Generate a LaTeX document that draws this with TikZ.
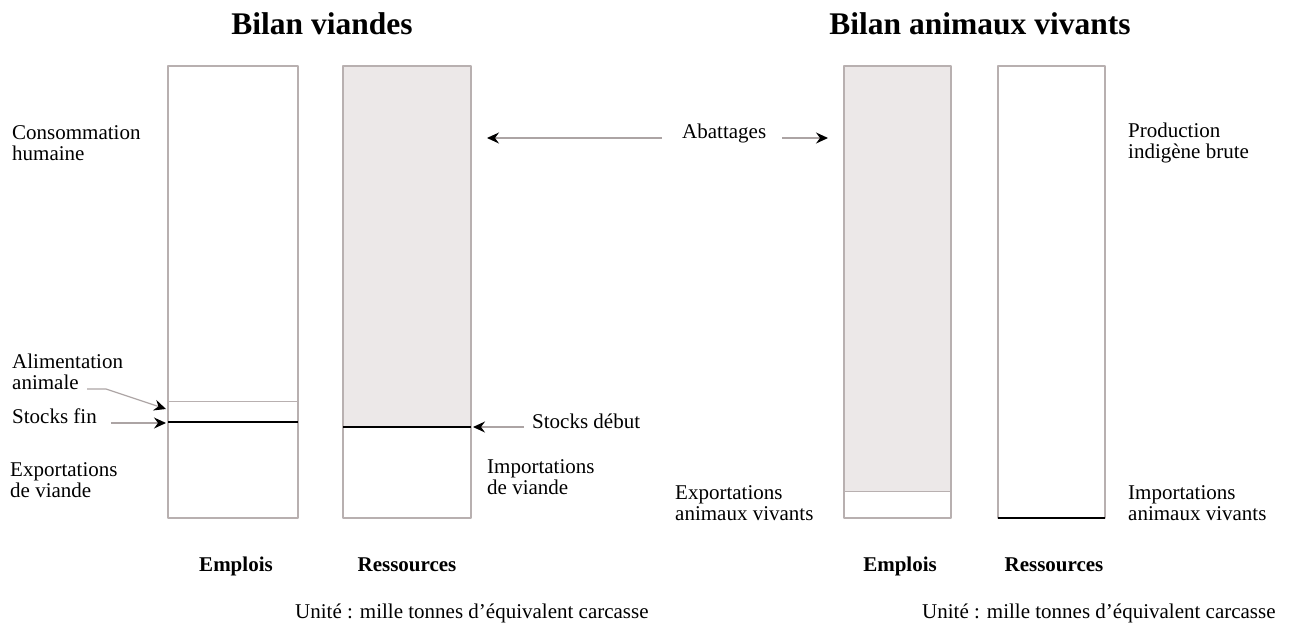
\documentclass[tikz,border=0pt]{standalone}
\usepackage{fontspec}
\setmainfont{Liberation Serif}
\usetikzlibrary{arrows.meta}
\definecolor{bordgris}{HTML}{B8B0B0}
\definecolor{fondgris}{HTML}{ECE8E8}
\definecolor{flechegris}{HTML}{ACA4A4}
\begin{document}
\begin{tikzpicture}[x=1pt,y=-1pt,line join=round,>={Stealth[black,length=12pt,width=11pt,inset=4pt]}]
            \tikzset{etiquette/.style={font=\fontsize{21}{21}\selectfont,align=left,inner sep=0pt},
                titre/.style={font=\fontsize{31.5}{32}\selectfont\bfseries,inner sep=0pt},
                colonne/.style={font=\fontsize{21}{21}\selectfont\bfseries,inner sep=0pt},
                barre/.style={draw=bordgris,line width=1.2pt},
                trait/.style={black,line width=2.4pt},
                fleche/.style={->,draw=flechegris,line width=1.2pt}}
            \useasboundingbox (0,0) rectangle (1289,630);
            %% Bilan viandes : barres
            \fill[fondgris] (343,66) rectangle (471,427);
            \draw[barre] (168,66) rectangle (298,518);
            \draw[barre] (343,66) rectangle (471,518);
            \draw[bordgris,line width=1pt] (168,401) -- (298,401);
            \draw[trait] (168,422) -- (298,422);
            \draw[trait] (343,427) -- (471,427);
            %% Bilan animaux vivants : barres
            \fill[fondgris] (844,66) rectangle (951,491);
            \draw[barre] (844,66) rectangle (951,518);
            \draw[barre] (998,66) rectangle (1105,518);
            \draw[bordgris,line width=1pt] (844,491) -- (951,491);
            \draw[trait] (998,518) -- (1105,518);
            %% titres
            \node[titre,anchor=base] (titreV) at (322,34) {Bilan viandes};
            \node[titre,anchor=base] (titreA) at (980,34) {Bilan animaux vivants};
            %% textes
            \node[etiquette,anchor=west] (conso) at (12,143) {Consommation\\humaine};
            \node[etiquette,anchor=west] (alim) at (12,372) {Alimentation\\animale};
            \node[etiquette,anchor=west] (stfin) at (12,416) {Stocks fin};
            \node[etiquette,anchor=west] (exportV) at (10,480) {Exportations\\de viande};
            \node[etiquette,anchor=west] (stdeb) at (532,421) {Stocks début};
            \node[etiquette,anchor=west] (importV) at (487,477) {Importations\\de viande};
            \node[etiquette,anchor=west] (abat) at (682,133) {Abattages};
            \node[etiquette,anchor=west] (prod) at (1128,143) {Production\\indigène brute};
            \node[etiquette,anchor=west] (exportA) at (675,503) {Exportations\\animaux vivants};
            \node[etiquette,anchor=west] (importA) at (1128,503) {Importations\\animaux vivants};
            \foreach \x/\nom in {236/Emplois,407/Ressources,900/Emplois,1054/Ressources}
                \node[colonne,anchor=base] (col-\x) at (\x,571) {\nom};
            \node[etiquette,anchor=base west] (uniteV) at (295,618) {Unité : mille tonnes d’équivalent carcasse};
            \node[etiquette,anchor=base west] (uniteA) at (922,618) {Unité : mille tonnes d’équivalent carcasse};
            %% flèches
            \coordinate (departAlim) at (87,389);
            \coordinate (coude) at (106,389);
            \coordinate (pAlim) at (166,409);
            \coordinate (pFin) at (166,423);
            \coordinate (pDeb) at (473,427);
            \coordinate (pAbatG) at (487,138);
            \coordinate (pAbatD) at (828,138);
            \draw[fleche] (departAlim) -- (coude) -- (pAlim);
            \draw[fleche] ([xshift=14pt]stfin.east |- pFin) -- (pFin);
            \draw[fleche] ([xshift=-8pt]stdeb.west |- pDeb) -- (pDeb);
            \draw[fleche] ([xshift=-20pt]abat.west |- pAbatG) -- (pAbatG);
            \draw[fleche] ([xshift=16pt]abat.east |- pAbatD) -- (pAbatD);
        \end{tikzpicture}
\end{document}
